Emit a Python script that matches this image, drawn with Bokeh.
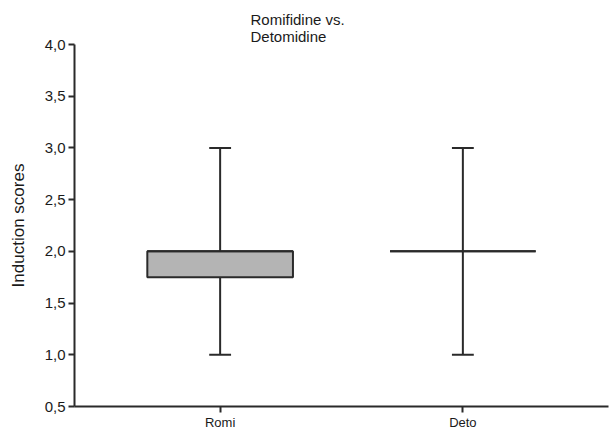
from bokeh.plotting import figure
from bokeh.models import ColumnDataSource, FactorRange, FixedTicker, Title
from bokeh.transform import dodge
from bokeh.embed import file_html
from bokeh.resources import INLINE

groups = ["Romi", "Deto"]
lower = [1.0, 1.0]
q1 = [1.75, 2.0]
median = [2.0, 2.0]
q3 = [2.0, 2.0]
upper = [3.0, 3.0]
y_ticks = [0.5, 1.0, 1.5, 2.0, 2.5, 3.0, 3.5, 4.0]
y_tick_labels = ["0,5", "1,0", "1,5", "2,0", "2,5", "3,0", "3,5", "4,0"]

src = ColumnDataSource(dict(g=groups, lower=lower, q1=q1, median=median, q3=q3, upper=upper))

FONT = "Liberation Sans"
INK = "#1a1a1a"

p = figure(width=609, height=432, x_range=FactorRange(factors=groups, range_padding=0.1),
           y_range=(0.5, 4.0), output_backend="svg", toolbar_location=None,
           min_border_left=74, min_border_right=1, min_border_top=44, min_border_bottom=25)
p.title = Title(text="Romifidine vs.\nDetomidine", align="left", offset=176,
                text_font=FONT, text_font_size="15px", text_font_style="normal",
                text_line_height=1.0, text_color=INK, standoff=0)

p.grid.visible = False
p.outline_line_color = None
p.background_fill_color = "white"
p.border_fill_color = "white"

lw = 2
col = "#2a2a2a"
# whiskers
p.segment(x0="g", y0="lower", x1="g", y1="q1", source=src, line_color=col, line_width=lw)
p.segment(x0="g", y0="q3", x1="g", y1="upper", source=src, line_color=col, line_width=lw)
# caps
p.segment(x0=dodge("g", -0.045, range=p.x_range), y0="lower", x1=dodge("g", 0.045, range=p.x_range), y1="lower",
          source=src, line_color=col, line_width=lw)
p.segment(x0=dodge("g", -0.045, range=p.x_range), y0="upper", x1=dodge("g", 0.045, range=p.x_range), y1="upper",
          source=src, line_color=col, line_width=lw)
# box
p.vbar(x="g", top="q3", bottom="q1", width=0.6, source=src, fill_color="#b4b4b4",
       line_color=col, line_width=lw)
# median
p.segment(x0=dodge("g", -0.3, range=p.x_range), y0="median", x1=dodge("g", 0.3, range=p.x_range), y1="median",
          source=src, line_color=col, line_width=lw)

ya = p.yaxis[0]
ya.ticker = FixedTicker(ticks=y_ticks)
ya.major_label_overrides = {t: l for t, l in zip(y_ticks, y_tick_labels)}
ya.minor_tick_line_color = None
ya.major_tick_in = 0
ya.major_tick_out = 6
ya.axis_label = "Induction scores"
ya.axis_label_text_font = FONT
ya.axis_label_text_font_size = "17px"
ya.axis_label_text_font_style = "normal"
ya.axis_label_text_color = INK
ya.axis_label_standoff = 14

for ax in (p.xaxis[0], ya):
    ax.axis_line_width = 2
    ax.axis_line_color = col
    ax.major_tick_line_width = 2
    ax.major_tick_line_color = col
    ax.major_label_text_font = FONT
    ax.major_label_text_color = INK

ya.major_label_text_font_size = "15px"
ya.major_label_standoff = 3

xa = p.xaxis[0]
xa.major_tick_in = 0
xa.major_tick_out = 6
xa.major_label_text_font_size = "13px"
xa.major_label_standoff = 2
xa.minor_tick_line_color = None

open("out.html", "w").write(file_html(p, INLINE))
